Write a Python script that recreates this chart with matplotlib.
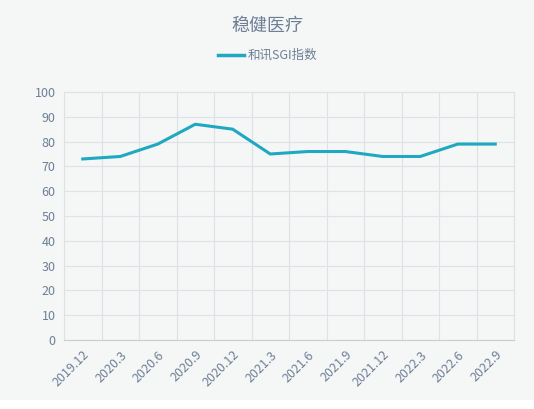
import matplotlib
matplotlib.use("Agg")
import matplotlib.pyplot as plt

plt.rcParams['font.family'] = ['Noto Sans CJK SC', 'DejaVu Sans']

categories = ["2019.12","2020.3","2020.6","2020.9","2020.12","2021.3","2021.6","2021.9","2021.12","2022.3","2022.6","2022.9"]
values = [73, 74, 79, 87, 85, 75, 76, 76, 74, 74, 79, 79]
series_name = "和讯SGI指数"
title = "稳健医疗"

W, H = 534, 409
fig = plt.figure(figsize=(W/100, H/100), dpi=100)
fig.patch.set_facecolor('white')
bg = fig.add_axes([0, 9/H, 1, 1-9/H])
bg.set_facecolor('#f5f6f6'); bg.axis('off')
bg.add_patch(plt.Rectangle((0,0),1,1,transform=bg.transAxes,color='#f5f6f6'))

ax = fig.add_axes([64/W, 1-340/H, 450/W, 248/H])
ax.set_facecolor('#f5f6f6')
n = len(categories)
x = [i + 0.5 for i in range(n)]
ax.plot(x, values, color='#1fa9c1', lw=2.2, solid_joinstyle='round')
ax.set_xlim(0, n)
ax.set_ylim(0, 100)
ax.set_yticks(range(0, 101, 10))
ax.set_xticks(range(n+1), minor=False)
ax.set_xticklabels([])
ax.set_xticks(x, minor=True)
ax.set_xticklabels(categories, minor=True, rotation=45, ha='right', rotation_mode='anchor', fontsize=9, color='#6e7f96')
ax.tick_params(axis='x', which='both', length=0, pad=6)
ax.tick_params(axis='y', length=0, labelsize=9, labelcolor='#6e7f96', pad=6)
ax.grid(True, which='major', color='#dde2e5', lw=0.8)
for s in ax.spines.values():
    s.set_color('#dde2e5'); s.set_linewidth(0.8)
ax.spines['bottom'].set_color('#c8cdd2')

fig.text(0.5, 1-26/H, title, ha='center', va='center', fontsize=13, color='#6e7f96')
fig.lines.append(plt.Line2D([218/W, 244/W], [1-55/H]*2, color='#1fa9c1', lw=2.5, transform=fig.transFigure))
fig.text(248/W, 1-55/H, series_name, ha='left', va='center', fontsize=9, color='#6e7f96')

fig.savefig('out.png', dpi=100, facecolor='white')
